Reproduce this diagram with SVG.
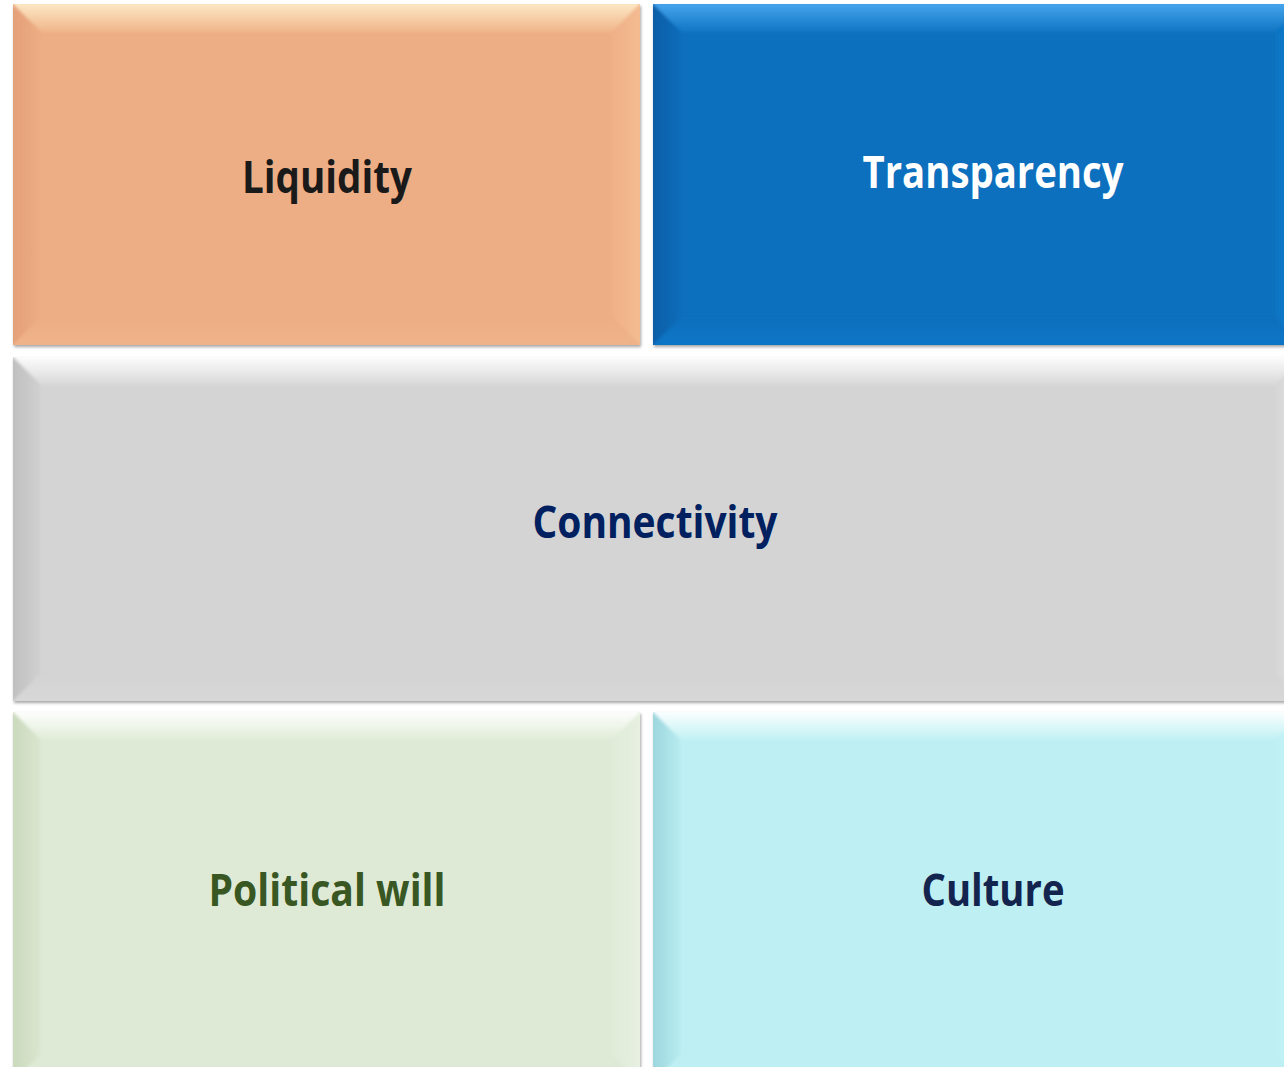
<svg xmlns="http://www.w3.org/2000/svg" width="1284" height="1067" viewBox="0 0 1284 1067">
  <defs>
    <filter id="shadow" x="-5%" y="-5%" width="110%" height="110%">
      <feDropShadow dx="1" dy="2" stdDeviation="1.6" flood-color="#000" flood-opacity="0.35"/>
    </filter>
    <filter id="soft" x="-2%" y="-2%" width="104%" height="104%">
      <feGaussianBlur stdDeviation="1.8"/>
    </filter>
    <clipPath id="clipLq"><rect x="13" y="4" width="627" height="341"/></clipPath>
    <clipPath id="clipTr"><rect x="653" y="4" width="650" height="341"/></clipPath>
    <clipPath id="clipCn"><rect x="13" y="357" width="1290" height="344"/></clipPath>
    <clipPath id="clipPw"><rect x="13" y="712" width="627" height="370"/></clipPath>
    <clipPath id="clipCu"><rect x="653" y="712" width="650" height="370"/></clipPath>
    <!-- Liquidity bevels -->
    <linearGradient id="lqTop" x1="0" y1="0" x2="0" y2="1"><stop offset="0" stop-color="#FDEBC8"/><stop offset="1" stop-color="#F0B58A"/></linearGradient>
    <linearGradient id="lqLeft" x1="0" y1="0" x2="1" y2="0"><stop offset="0" stop-color="#E3A078"/><stop offset="1" stop-color="#EDAC83"/></linearGradient>
    <linearGradient id="lqRight" x1="0" y1="0" x2="1" y2="0"><stop offset="0" stop-color="#EFB088"/><stop offset="1" stop-color="#F4BC92"/></linearGradient>
    <linearGradient id="lqBot" x1="0" y1="0" x2="0" y2="1"><stop offset="0" stop-color="#EDAD84"/><stop offset="1" stop-color="#F0B489"/></linearGradient>
    <!-- Transparency bevels -->
    <linearGradient id="trTop" x1="0" y1="0" x2="0" y2="1"><stop offset="0" stop-color="#4AA8F0"/><stop offset="1" stop-color="#0F75C3"/></linearGradient>
    <linearGradient id="trLeft" x1="0" y1="0" x2="1" y2="0"><stop offset="0" stop-color="#0A5DA6"/><stop offset="1" stop-color="#0C6CB9"/></linearGradient>
    <linearGradient id="trRight" x1="0" y1="0" x2="1" y2="0"><stop offset="0" stop-color="#0E73C2"/><stop offset="1" stop-color="#1A84D4"/></linearGradient>
    <linearGradient id="trBot" x1="0" y1="0" x2="0" y2="1"><stop offset="0" stop-color="#0B6FBD"/><stop offset="1" stop-color="#0F76C6"/></linearGradient>
    <!-- Connectivity bevels -->
    <linearGradient id="cnTop" x1="0" y1="0" x2="0" y2="1"><stop offset="0" stop-color="#FFFFFF"/><stop offset="1" stop-color="#D8D8D8"/></linearGradient>
    <linearGradient id="cnLeft" x1="0" y1="0" x2="1" y2="0"><stop offset="0" stop-color="#BEBEBE"/><stop offset="1" stop-color="#D1D1D1"/></linearGradient>
    <linearGradient id="cnRight" x1="0" y1="0" x2="1" y2="0"><stop offset="0" stop-color="#D6D6D6"/><stop offset="1" stop-color="#E2E2E2"/></linearGradient>
    <linearGradient id="cnBot" x1="0" y1="0" x2="0" y2="1"><stop offset="0" stop-color="#D3D3D3"/><stop offset="1" stop-color="#D8D8D8"/></linearGradient>
    <!-- Political will bevels -->
    <linearGradient id="pwTop" x1="0" y1="0" x2="0" y2="1"><stop offset="0" stop-color="#FFFFFF"/><stop offset="1" stop-color="#E0ECD7"/></linearGradient>
    <linearGradient id="pwLeft" x1="0" y1="0" x2="1" y2="0"><stop offset="0" stop-color="#C9D9BB"/><stop offset="1" stop-color="#DAE6D0"/></linearGradient>
    <linearGradient id="pwRight" x1="0" y1="0" x2="1" y2="0"><stop offset="0" stop-color="#E0EBD8"/><stop offset="1" stop-color="#E8F1E2"/></linearGradient>
    <!-- Culture bevels -->
    <linearGradient id="cuTop" x1="0" y1="0" x2="0" y2="1"><stop offset="0" stop-color="#FFFFFF"/><stop offset="1" stop-color="#C0F1F4"/></linearGradient>
    <linearGradient id="cuLeft" x1="0" y1="0" x2="1" y2="0"><stop offset="0" stop-color="#9BD5DC"/><stop offset="1" stop-color="#B8ECF0"/></linearGradient>
    <linearGradient id="cuRight" x1="0" y1="0" x2="1" y2="0"><stop offset="0" stop-color="#BEF0F3"/><stop offset="1" stop-color="#C8F5F8"/></linearGradient>
  </defs>
  <style>
    .label { font-family: "Open Sans", "Noto Sans", "Liberation Sans", sans-serif; font-weight: 700; font-size: 45px; text-anchor: middle; }
    .bevel { filter: url(#soft); }
  </style>

  <rect x="0" y="0" width="1284" height="1067" fill="#FFFFFF"/>

  <!-- Liquidity -->
  <g id="liquidity">
    <rect x="13" y="4" width="627" height="341" fill="#EEAE85" filter="url(#shadow)"/>
    <g clip-path="url(#clipLq)"><g class="bevel">
      <polygon points="11,2 642,2 612,32 41,32" fill="url(#lqTop)"/>
      <polygon points="11,2 41,32 41,317 11,347" fill="url(#lqLeft)"/>
      <polygon points="642,2 642,347 612,317 612,32" fill="url(#lqRight)"/>
      <polygon points="11,347 41,317 612,317 642,347" fill="url(#lqBot)"/>
    </g></g>
    <text class="label" x="327" y="193" fill="#1A1A1A" textLength="170" lengthAdjust="spacingAndGlyphs">Liquidity</text>
  </g>

  <!-- Transparency -->
  <g id="transparency">
    <rect x="653" y="4" width="650" height="341" fill="#0C70BE" filter="url(#shadow)"/>
    <g clip-path="url(#clipTr)"><g class="bevel">
      <polygon points="651,2 1305,2 1275,32 681,32" fill="url(#trTop)"/>
      <polygon points="651,2 681,32 681,317 651,347" fill="url(#trLeft)"/>
      <polygon points="1305,2 1305,347 1275,317 1275,32" fill="url(#trRight)"/>
      <polygon points="651,347 681,317 1275,317 1305,347" fill="url(#trBot)"/>
    </g></g>
    <text class="label" x="993" y="188" fill="#FFFFFF" textLength="261" lengthAdjust="spacingAndGlyphs">Transparency</text>
  </g>

  <!-- Connectivity -->
  <g id="connectivity">
    <rect x="13" y="357" width="1290" height="344" fill="#D4D4D4" filter="url(#shadow)"/>
    <g clip-path="url(#clipCn)"><g class="bevel">
      <polygon points="11,355 1305,355 1275,385 41,385" fill="url(#cnTop)"/>
      <polygon points="11,355 41,385 41,673 11,703" fill="url(#cnLeft)"/>
      <polygon points="1305,355 1305,703 1275,673 1275,385" fill="url(#cnRight)"/>
      <polygon points="11,703 41,673 1275,673 1305,703" fill="url(#cnBot)"/>
    </g></g>
    <text class="label" x="655" y="538" fill="#002060" textLength="245" lengthAdjust="spacingAndGlyphs">Connectivity</text>
  </g>

  <!-- Political will -->
  <g id="political-will">
    <rect x="13" y="712" width="627" height="370" fill="#DFEAD6" filter="url(#shadow)"/>
    <g clip-path="url(#clipPw)"><g class="bevel">
      <polygon points="11,710 642,710 612,740 41,740" fill="url(#pwTop)"/>
      <polygon points="11,710 41,740 41,1054 11,1084" fill="url(#pwLeft)"/>
      <polygon points="642,710 642,1084 612,1054 612,740" fill="url(#pwRight)"/>
    </g></g>
    <text class="label" x="327" y="906" fill="#385723" textLength="237" lengthAdjust="spacingAndGlyphs">Political will</text>
  </g>

  <!-- Culture -->
  <g id="culture">
    <rect x="653" y="712" width="650" height="370" fill="#BEF0F3" filter="url(#shadow)"/>
    <g clip-path="url(#clipCu)"><g class="bevel">
      <polygon points="651,710 1305,710 1275,740 681,740" fill="url(#cuTop)"/>
      <polygon points="651,710 681,740 681,1054 651,1084" fill="url(#cuLeft)"/>
      <polygon points="1305,710 1305,1084 1275,1054 1275,740" fill="url(#cuRight)"/>
    </g></g>
    <text class="label" x="993" y="906" fill="#13254F" textLength="143" lengthAdjust="spacingAndGlyphs">Culture</text>
  </g>

  <!-- no connectors in this figure -->
  <g id="connectors"/>
</svg>
